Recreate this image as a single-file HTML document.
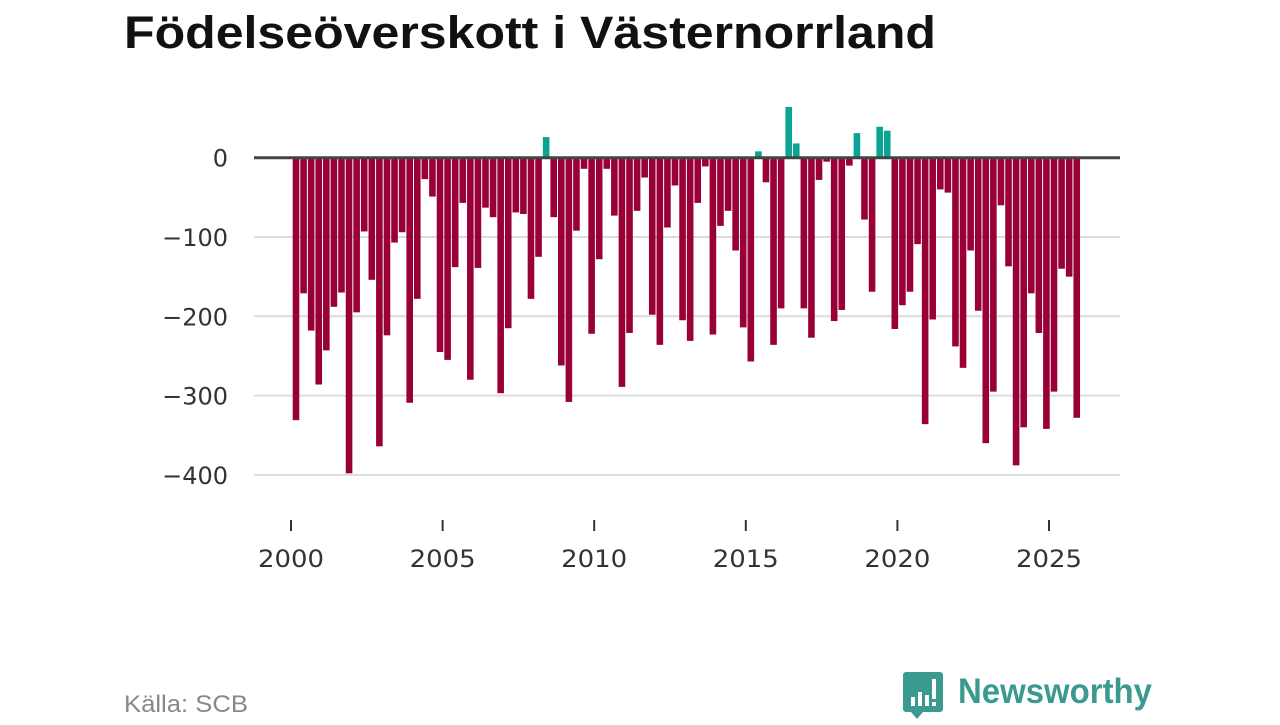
<!DOCTYPE html>
<html><head><meta charset="utf-8"><style>
body{margin:0;background:#fff;width:1280px;height:720px;overflow:hidden;font-family:"Liberation Sans",sans-serif}
</style></head><body>
<svg width="1280" height="720" xmlns="http://www.w3.org/2000/svg">
<text x="124" y="48" font-size="45" font-weight="bold" fill="#111" textLength="812" lengthAdjust="spacingAndGlyphs">Födelseöverskott i Västernorrland</text>
<g id="grid"></g>
<g id="bars"></g>
<g id="xaxis"></g>
<text x="124" y="712" font-size="24" fill="#888" textLength="124" lengthAdjust="spacingAndGlyphs">Källa: SCB</text>
<g>
<path d="M906 672h34a3 3 0 0 1 3 3v34a3 3 0 0 1-3 3h-17l-6 7-6-7h-5a3 3 0 0 1-3-3v-34a3 3 0 0 1 3-3z" fill="#3a9a8f"/>
<rect x="911" y="697" width="4" height="9" fill="#fff"/><rect x="918" y="692" width="4" height="14" fill="#fff"/><rect x="925" y="695" width="4" height="11" fill="#fff"/><rect x="932" y="679" width="4" height="20" fill="#fff"/><rect x="932" y="702" width="4" height="4" fill="#fff"/>
<text x="958" y="703" font-size="35" font-weight="bold" fill="#3a9a8f" textLength="194" lengthAdjust="spacingAndGlyphs">Newsworthy</text>
</g>
</svg>
<script>
const startYear = 2000;
const values = [-331,-171,-218,-286,-243,-188,-170,-398,-195,-93,-154,-364,-224,-107,-94,-309,-178,-27,-49,-245,-255,-138,-57,-280,-139,-63,-75,-297,
-215,-69,-71,-178,-125,26,-75,-262,-308,-92,-14,-222,-128,-14,-73,-289,-221,-67,-25,-198,-236,-88,-35,-205,-231,-57,-11,
-223,-86,-67,-117,-214,-257,8,-31,-236,-190,64,18,-190,-227,-28,-5,-206,-192,-10,31,-78,-169,39,34,-216,-186,-169,-109,
-336,-204,-40,-44,-238,-265,-117,-193,-360,-295,-60,-137,-388,-340,-171,-221,-342,-295,-140,-150,-328];
const yTicks = [0,-100,-200,-300,-400];
const yTickLabels = ["0","\u2212100","\u2212200","\u2212300","\u2212400"];
const xTicks = [2000,2005,2010,2015,2020,2025];
const NS="http://www.w3.org/2000/svg";
const x = yr => 291 + (yr-2000)*30.32;
const y = v => 157.7 - v*0.793;
const grid=document.getElementById('grid'), bars=document.getElementById('bars'), xa=document.getElementById('xaxis');
function mk(tag, attrs, parent){const e=document.createElementNS(NS,tag);for(const k in attrs)e.setAttribute(k,attrs[k]);parent.appendChild(e);return e;}
yTicks.forEach((t,i)=>{
  if(t!==0){const l=mk('line',{x1:254,x2:1120,y1:y(t),y2:y(t),stroke:'#dcdcdc','stroke-width':2},grid);
  
  }
  const tx=mk('text',{x:228,y:y(t)+9,'font-size':24,fill:'#333','text-anchor':'end','font-family':'DejaVu Sans, sans-serif'},grid);
  tx.textContent=yTickLabels[i];
  
  
});
values.forEach((v,i)=>{
  const cx = x(startYear + i/4) + 5;
  const r=mk('rect',{x:cx-3.3,width:6.6,y:Math.min(y(v),y(0)),height:Math.abs(y(v)-y(0)),fill:v>=0?'#0aa394':'#990037'},bars);
  
  
});
const z=mk('line',{x1:254,x2:1120,y1:y(0),y2:y(0),stroke:'#444','stroke-width':3},xa);


xTicks.forEach(t=>{
  const tk=mk('line',{x1:x(t),x2:x(t),y1:520,y2:531,stroke:'#333','stroke-width':2},xa);
  
  
  const tx=mk('text',{x:x(t),y:567,'font-size':24,fill:'#333','text-anchor':'middle','font-family':'DejaVu Sans, sans-serif',textLength:66,lengthAdjust:'spacingAndGlyphs'},xa);
  tx.textContent=t;
  
  
});
</script>
</body></html>
